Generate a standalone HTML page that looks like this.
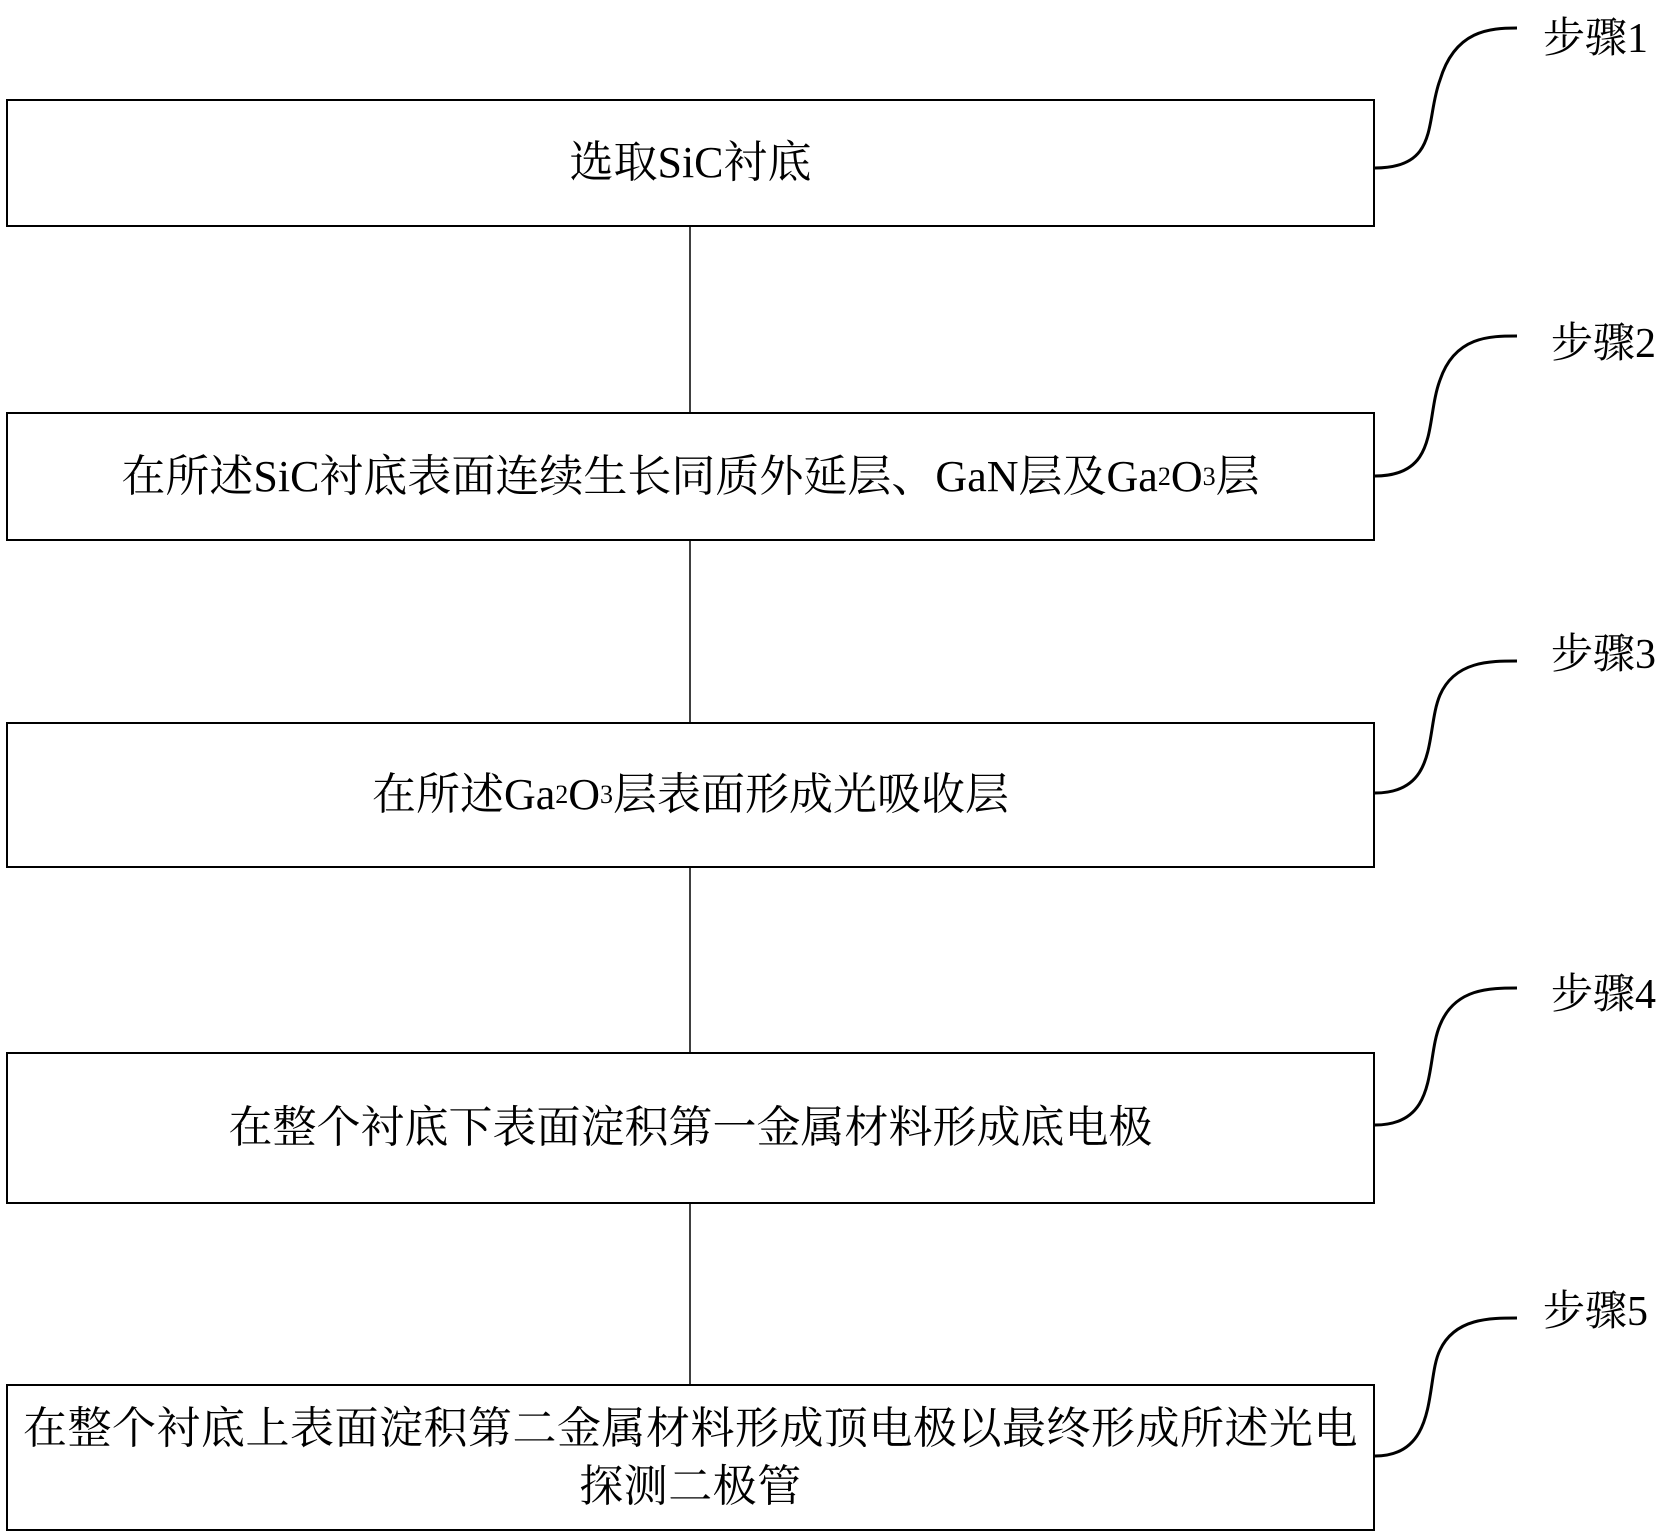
<!DOCTYPE html>
<html><head><meta charset="utf-8"><style>
body{margin:0;background:#fff;width:1663px;height:1535px;overflow:hidden;position:relative;font-family:"Liberation Serif","Noto Serif CJK SC",serif;color:#000}
.box{position:absolute;left:6px;width:1365px;border:2.5px solid #000;display:flex;align-items:center;justify-content:center;text-align:center;font-size:44px;line-height:58px;white-space:nowrap}
.lbl{position:absolute;font-size:42px;left:1543px}
sub{font-size:26px;vertical-align:-6px;line-height:0}
</style></head><body>
<svg width="1663" height="1535" style="position:absolute;left:0;top:0">
<g stroke="#000" fill="none">
<line x1="690" y1="227" x2="690" y2="413" stroke-width="1.5"/>
<line x1="690" y1="541" x2="690" y2="723" stroke-width="1.5"/>
<line x1="690" y1="868" x2="690" y2="1053" stroke-width="1.5"/>
<line x1="690" y1="1204" x2="690" y2="1385" stroke-width="1.5"/>
<g stroke-width="3">
<path d="M1375 168 C1440 168 1425 120 1440 80 C1455 30 1490 28 1517 28"/>
<path d="M1375 476 C1440 476 1425 420 1440 380 C1455 336 1490 336 1517 336"/>
<path d="M1375 793 C1440 793 1425 730 1440 695 C1455 661 1490 661 1517 661"/>
<path d="M1375 1125 C1440 1125 1425 1060 1440 1025 C1455 988 1490 988 1517 988"/>
<path d="M1375 1456 C1440 1456 1425 1380 1440 1350 C1455 1318 1490 1318 1517 1318"/>
</g></g></svg>
<div class="lbl" style="top:5px">步骤1</div>
<div class="lbl" style="top:310px;left:1551px">步骤2</div>
<div class="lbl" style="top:621px;left:1551px">步骤3</div>
<div class="lbl" style="top:961px;left:1551px">步骤4</div>
<div class="lbl" style="top:1278px">步骤5</div>
<div class="box" style="top:99px;height:124px">选取SiC衬底</div>
<div class="box" style="top:412px;height:125px">在所述SiC衬底表面连续生长同质外延层、GaN层及Ga<sub>2</sub>O<sub>3</sub>层</div>
<div class="box" style="top:722px;height:142px">在所述Ga<sub>2</sub>O<sub>3</sub>层表面形成光吸收层</div>
<div class="box" style="top:1052px;height:148px">在整个衬底下表面淀积第一金属材料形成底电极</div>
<div class="box" style="top:1384px;height:143px;letter-spacing:0.5px">在整个衬底上表面淀积第二金属材料形成顶电极以最终形成所述光电<br>探测二极管</div>
</body></html>
